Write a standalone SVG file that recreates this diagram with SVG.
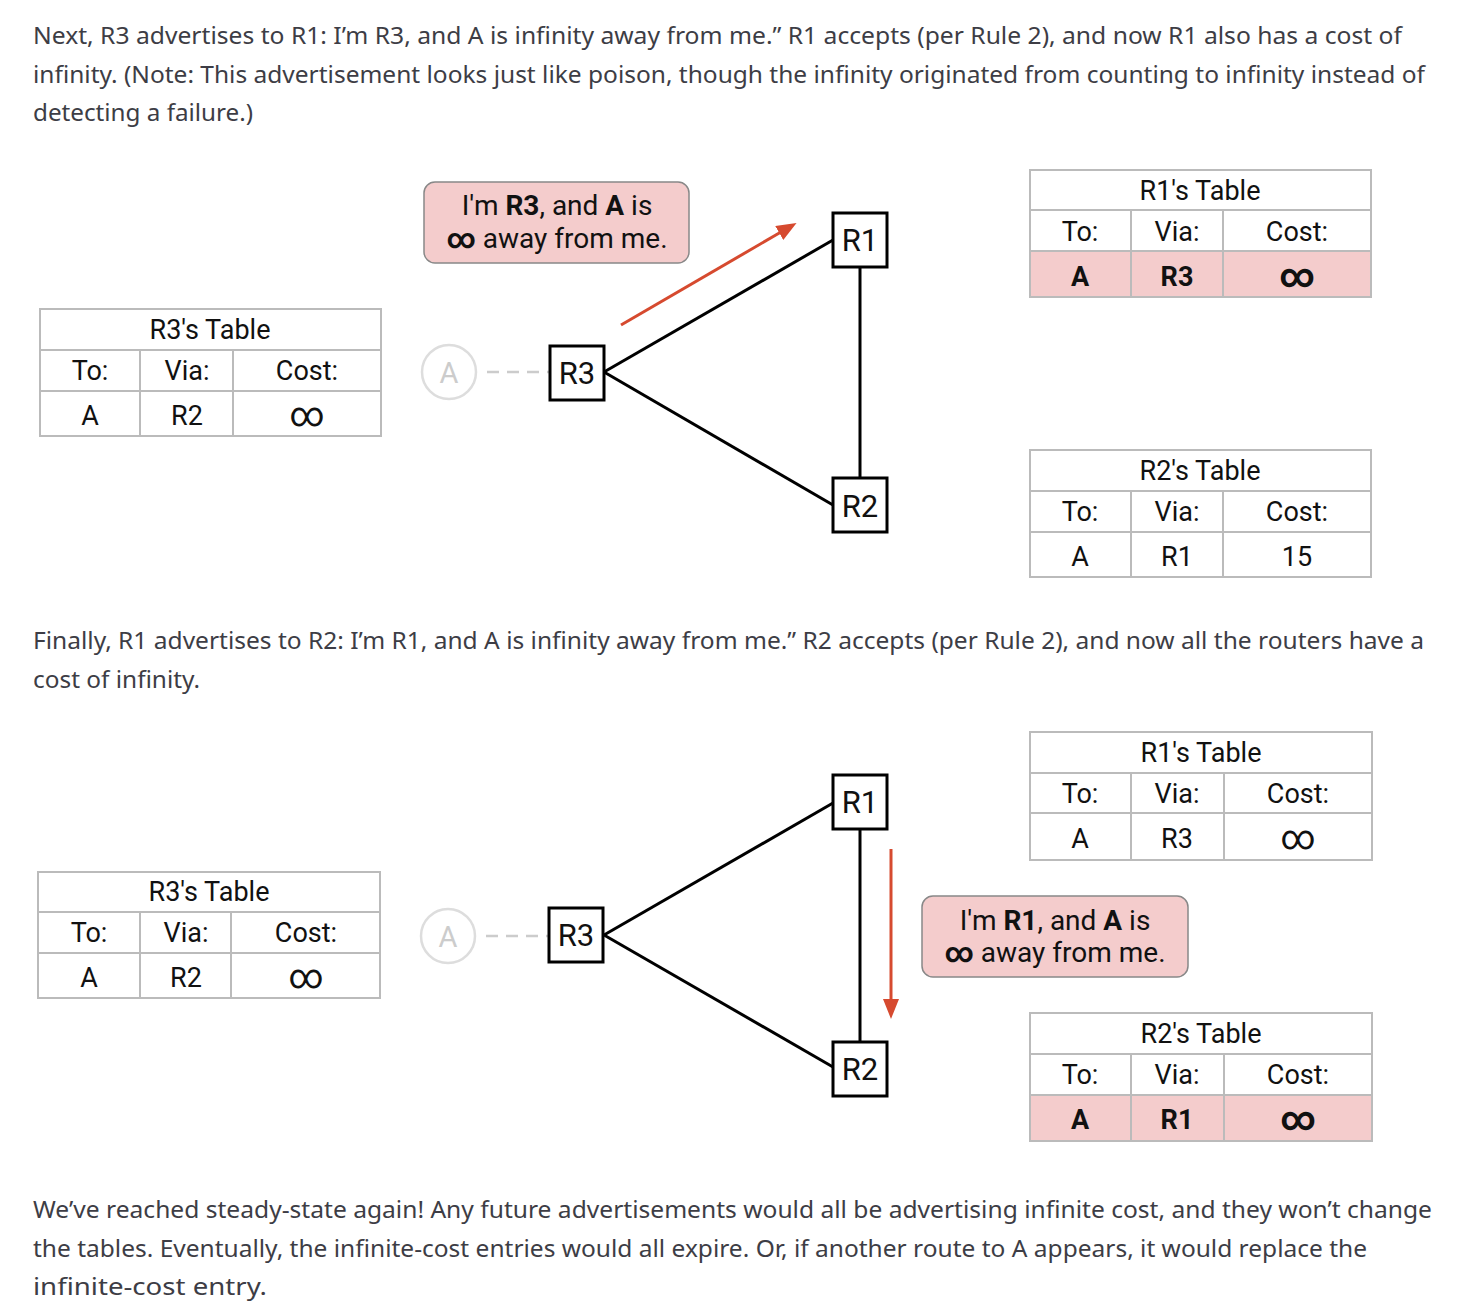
<svg xmlns="http://www.w3.org/2000/svg" width="1479" height="1316" viewBox="0 0 1479 1316">
<style>
.body{font-family:"Noto Sans","Open Sans",sans-serif;font-size:23px;fill:#3d3d45}
.d{font-family:Roboto,"Liberation Sans",sans-serif;fill:#111;text-anchor:middle}
.tt{font-size:27px}
.bt{font-size:28px}
.nl{font-size:31px}
.inf{font-size:34px}
.b{font-weight:bold}
.tb{fill:none;stroke:#bbb;stroke-width:2}
.pink{fill:#f4cccc}
.node{fill:#fff;stroke:#000;stroke-width:3}
.edge{stroke:#000;stroke-width:3;fill:none}
.dash{stroke:#ccc;stroke-width:2.5;stroke-dasharray:12 8;fill:none}
.ac{fill:#fff;stroke:#ddd;stroke-width:2.5}
.at{fill:#ccc;font-size:29px}
.bub{fill:#f4cccc;stroke:#888;stroke-width:1.5}
.red{stroke:#d64a2f;stroke-width:3;fill:none}
</style>
<defs>
<marker id="ah" markerUnits="userSpaceOnUse" markerWidth="20" markerHeight="16" refX="2" refY="8" orient="auto">
<path d="M0,0 L20,8 L0,16 z" fill="#d64a2f"/>
</marker>
</defs>
<rect width="1479" height="1316" fill="#fff"/>

<g id="para1" class="body">
<text x="33" y="44" textLength="1369" lengthAdjust="spacingAndGlyphs">Next, R3 advertises to R1: I’m R3, and A is infinity away from me.” R1 accepts (per Rule 2), and now R1 also has a cost of</text>
<text x="33" y="83" textLength="1392" lengthAdjust="spacingAndGlyphs">infinity. (Note: This advertisement looks just like poison, though the infinity originated from counting to infinity instead of</text>
<text x="33" y="121" textLength="220" lengthAdjust="spacingAndGlyphs">detecting a failure.)</text>
</g>
<g id="para2" class="body">
<text x="33" y="649" textLength="1391" lengthAdjust="spacingAndGlyphs">Finally, R1 advertises to R2: I’m R1, and A is infinity away from me.” R2 accepts (per Rule 2), and now all the routers have a</text>
<text x="33" y="688" textLength="167" lengthAdjust="spacingAndGlyphs">cost of infinity.</text>
</g>
<g id="para3" class="body">
<text x="33" y="1218" textLength="1399" lengthAdjust="spacingAndGlyphs">We’ve reached steady-state again! Any future advertisements would all be advertising infinite cost, and they won’t change</text>
<text x="33" y="1257" textLength="1334" lengthAdjust="spacingAndGlyphs">the tables. Eventually, the infinite-cost entries would all expire. Or, if another route to A appears, it would replace the</text>
<text x="33" y="1295" textLength="234" lengthAdjust="spacingAndGlyphs">infinite-cost entry.</text>
</g>

<!-- ===== Top diagram ===== -->
<g id="connectors-top">
<line class="dash" x1="487" y1="372" x2="549" y2="372"/>
<line class="edge" x1="604" y1="372" x2="833" y2="240"/>
<line class="edge" x1="604" y1="372" x2="833" y2="505"/>
<line class="edge" x1="860" y1="267" x2="860" y2="478"/>
<line class="red" x1="621" y1="325" x2="781" y2="232" marker-end="url(#ah)"/>
</g>
<g id="top-A">
<circle class="ac" cx="449" cy="372" r="27"/>
<text class="d at" x="449" y="383">A</text>
</g>
<g id="top-R3">
<rect class="node" x="550" y="346" width="54" height="54"/>
<text class="d nl" x="577" y="384">R3</text>
</g>
<g id="top-R1">
<rect class="node" x="833" y="213" width="54" height="54"/>
<text class="d nl" x="860" y="251">R1</text>
</g>
<g id="top-R2">
<rect class="node" x="833" y="478" width="54" height="54"/>
<text class="d nl" x="860" y="517">R2</text>
</g>
<g id="top-bubble">
<rect class="bub" x="424" y="182" width="265" height="81" rx="11"/>
<text class="d bt" x="557" y="215">I'm <tspan class="b">R3</tspan>, and <tspan class="b">A</tspan> is</text>
<text class="d bt" x="557" y="248"><tspan class="b">∞</tspan> away from me.</text>
</g>

<g id="top-R3-table">
<line class="tb" x1="140" y1="350" x2="140" y2="436"/>
<line class="tb" x1="233" y1="350" x2="233" y2="436"/>
<line class="tb" x1="40" y1="350" x2="381" y2="350"/>
<line class="tb" x1="40" y1="391" x2="381" y2="391"/>
<rect class="tb" x="40" y="309" width="341" height="127"/>
<text class="d tt" x="210" y="339">R3's Table</text>
<text class="d tt" x="90" y="380">To:</text>
<text class="d tt" x="187" y="380">Via:</text>
<text class="d tt" x="307" y="380">Cost:</text>
<text class="d tt" x="90" y="425">A</text>
<text class="d tt" x="187" y="425">R2</text>
<text class="d inf" x="307" y="426">∞</text>
</g>

<g id="top-R1-table">
<rect class="pink" x="1030" y="251" width="341" height="46"/>
<line class="tb" x1="1131" y1="210" x2="1131" y2="297"/>
<line class="tb" x1="1223" y1="210" x2="1223" y2="297"/>
<line class="tb" x1="1030" y1="210" x2="1371" y2="210"/>
<line class="tb" x1="1030" y1="251" x2="1371" y2="251"/>
<rect class="tb" x="1030" y="170" width="341" height="127"/>
<text class="d tt" x="1200" y="200">R1's Table</text>
<text class="d tt" x="1080" y="241">To:</text>
<text class="d tt" x="1177" y="241">Via:</text>
<text class="d tt" x="1297" y="241">Cost:</text>
<text class="d tt b" x="1080" y="286">A</text>
<text class="d tt b" x="1177" y="286">R3</text>
<text class="d inf b" x="1297" y="287">∞</text>
</g>

<g id="top-R2-table">
<line class="tb" x1="1131" y1="491" x2="1131" y2="577"/>
<line class="tb" x1="1223" y1="491" x2="1223" y2="577"/>
<line class="tb" x1="1030" y1="491" x2="1371" y2="491"/>
<line class="tb" x1="1030" y1="532" x2="1371" y2="532"/>
<rect class="tb" x="1030" y="450" width="341" height="127"/>
<text class="d tt" x="1200" y="480">R2's Table</text>
<text class="d tt" x="1080" y="521">To:</text>
<text class="d tt" x="1177" y="521">Via:</text>
<text class="d tt" x="1297" y="521">Cost:</text>
<text class="d tt" x="1080" y="566">A</text>
<text class="d tt" x="1177" y="566">R1</text>
<text class="d tt" x="1297" y="566">15</text>
</g>

<!-- ===== Bottom diagram ===== -->
<g id="connectors-bottom">
<line class="dash" x1="486" y1="936" x2="549" y2="936"/>
<line class="edge" x1="604" y1="935" x2="833" y2="803"/>
<line class="edge" x1="604" y1="935" x2="833" y2="1067"/>
<line class="edge" x1="860" y1="829" x2="860" y2="1042"/>
<line class="red" x1="891" y1="849" x2="891" y2="1001" marker-end="url(#ah)"/>
</g>
<g id="bot-A">
<circle class="ac" cx="448" cy="936" r="27"/>
<text class="d at" x="448" y="947">A</text>
</g>
<g id="bot-R3">
<rect class="node" x="549" y="908" width="54" height="54"/>
<text class="d nl" x="576" y="946">R3</text>
</g>
<g id="bot-R1">
<rect class="node" x="833" y="775" width="54" height="54"/>
<text class="d nl" x="860" y="813">R1</text>
</g>
<g id="bot-R2">
<rect class="node" x="833" y="1042" width="54" height="54"/>
<text class="d nl" x="860" y="1080">R2</text>
</g>
<g id="bot-bubble">
<rect class="bub" x="922" y="896" width="266" height="81" rx="11"/>
<text class="d bt" x="1055" y="930">I'm <tspan class="b">R1</tspan>, and <tspan class="b">A</tspan> is</text>
<text class="d bt" x="1055" y="962"><tspan class="b">∞</tspan> away from me.</text>
</g>

<g id="bot-R1-table">
<line class="tb" x1="1131" y1="773" x2="1131" y2="860"/>
<line class="tb" x1="1224" y1="773" x2="1224" y2="860"/>
<line class="tb" x1="1030" y1="773" x2="1372" y2="773"/>
<line class="tb" x1="1030" y1="813" x2="1372" y2="813"/>
<rect class="tb" x="1030" y="732" width="342" height="128"/>
<text class="d tt" x="1201" y="762">R1's Table</text>
<text class="d tt" x="1080" y="803">To:</text>
<text class="d tt" x="1177" y="803">Via:</text>
<text class="d tt" x="1298" y="803">Cost:</text>
<text class="d tt" x="1080" y="848">A</text>
<text class="d tt" x="1177" y="848">R3</text>
<text class="d inf" x="1298" y="849">∞</text>
</g>

<g id="bot-R3-table">
<line class="tb" x1="140" y1="912" x2="140" y2="998"/>
<line class="tb" x1="231" y1="912" x2="231" y2="998"/>
<line class="tb" x1="38" y1="912" x2="380" y2="912"/>
<line class="tb" x1="38" y1="953" x2="380" y2="953"/>
<rect class="tb" x="38" y="872" width="342" height="126"/>
<text class="d tt" x="209" y="901">R3's Table</text>
<text class="d tt" x="89" y="942">To:</text>
<text class="d tt" x="186" y="942">Via:</text>
<text class="d tt" x="306" y="942">Cost:</text>
<text class="d tt" x="89" y="987">A</text>
<text class="d tt" x="186" y="987">R2</text>
<text class="d inf" x="306" y="988">∞</text>
</g>

<g id="bot-R2-table">
<rect class="pink" x="1030" y="1095" width="342" height="46"/>
<line class="tb" x1="1131" y1="1054" x2="1131" y2="1141"/>
<line class="tb" x1="1224" y1="1054" x2="1224" y2="1141"/>
<line class="tb" x1="1030" y1="1054" x2="1372" y2="1054"/>
<line class="tb" x1="1030" y1="1095" x2="1372" y2="1095"/>
<rect class="tb" x="1030" y="1013" width="342" height="128"/>
<text class="d tt" x="1201" y="1043">R2's Table</text>
<text class="d tt" x="1080" y="1084">To:</text>
<text class="d tt" x="1177" y="1084">Via:</text>
<text class="d tt" x="1298" y="1084">Cost:</text>
<text class="d tt b" x="1080" y="1129">A</text>
<text class="d tt b" x="1177" y="1129">R1</text>
<text class="d inf b" x="1298" y="1130">∞</text>
</g>
</svg>
